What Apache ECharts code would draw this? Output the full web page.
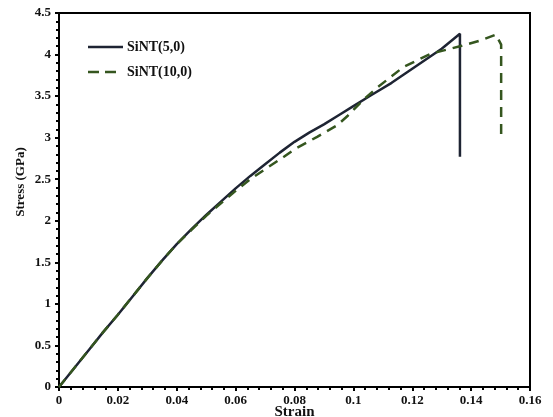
<!DOCTYPE html>
<html>
<head>
<meta charset="utf-8">
<script src="https://cdn.jsdelivr.net/npm/echarts@6/dist/echarts.min.js"></script>
<style>
  html, body { margin: 0; padding: 0; background: #fff; }
  #chart { width: 553px; height: 417px; }
</style>
</head>
<body>
<div id="chart"></div>
<script>
// strain / stress
const strain5 = [0, 0.005, 0.01, 0.015, 0.02, 0.025, 0.03, 0.035, 0.04, 0.045, 0.05, 0.055, 0.06, 0.065, 0.07, 0.075, 0.08, 0.085, 0.09, 0.095, 0.1, 0.106, 0.113, 0.12, 0.13, 0.1362, 0.1362]
const stress5 = [0, 0.22, 0.44, 0.66, 0.87, 1.09, 1.31, 1.52, 1.72, 1.90, 2.07, 2.23, 2.39, 2.54, 2.68, 2.82, 2.95, 3.06, 3.16, 3.27, 3.38, 3.51, 3.66, 3.83, 4.07, 4.25, 2.77]

const strain10 = [0, 0.005, 0.01, 0.015, 0.02, 0.025, 0.03, 0.035, 0.04, 0.045, 0.05, 0.055, 0.06, 0.065, 0.07, 0.0764, 0.08, 0.0877, 0.0945, 0.098, 0.1035, 0.108, 0.117, 0.1263, 0.1362, 0.1433, 0.1484, 0.1502, 0.1502]
const stress10 = [0, 0.22, 0.44, 0.66, 0.87, 1.09, 1.31, 1.52, 1.72, 1.89, 2.06, 2.21, 2.36, 2.5, 2.62, 2.77, 2.86, 3.01, 3.15, 3.26, 3.46, 3.60, 3.85, 4.01, 4.10, 4.17, 4.24, 4.12, 2.98]

const seriesNames = ['SiNT(5,0)', 'SiNT(10,0)']

function pairs (xs, ys) {
  return xs.map(function (x, i) { return [x, ys[i]] })
}

const font = 'Liberation Serif'
// legend line samples (the tiny rect at the end keeps both icons 35 wide)
const solidIcon = 'path://M0,0H35V2.5H0Z'
const dashIcon = 'path://M0,0H11V2.5H0Z M17,0H28V2.5H17Z M34.9,1.2H35V1.3H34.9Z'

let myChart = echarts.init(document.getElementById('chart'))
let option = {
  animation: false,
  grid: {
    left: 59,
    right: 23,
    top: 13,
    bottom: 30,
    outerBoundsMode: 'none',
    show: true,
    borderColor: '#000',
    borderWidth: 2
  },
  legend: {
    left: 83,
    top: 35,
    orient: 'vertical',
    itemWidth: 35,
    itemHeight: 2.5,
    itemGap: 11,
    textStyle: { fontFamily: font, fontWeight: 'bold', fontSize: 14, color: '#111', padding: [0, 0, 0, -1] },
    data: [
      { name: seriesNames[0], icon: solidIcon },
      { name: seriesNames[1], icon: dashIcon }
    ]
  },
  xAxis: {
    type: 'value',
    min: 0,
    max: 0.16,
    interval: 0.02,
    name: 'Strain',
    nameLocation: 'middle',
    nameGap: 18,
    nameMoveOverlap: false,
    nameTextStyle: { fontFamily: font, fontWeight: 'bold', fontSize: 15, color: '#111' },
    axisLine: { lineStyle: { color: '#000', width: 2 } },
    axisTick: { length: 4, lineStyle: { color: '#000', width: 2 } },
    minorTick: { show: true, splitNumber: 5, length: 3, lineStyle: { color: '#000', width: 2 } },
    splitLine: { show: false },
    axisLabel: {
      fontFamily: font, fontWeight: 'bold', fontSize: 13, color: '#111', margin: 7,
      formatter: function (v) { return v === 0 ? '0' : String(+v.toFixed(2)) }
    }
  },
  yAxis: {
    type: 'value',
    min: 0,
    max: 4.5,
    interval: 0.5,
    name: 'Stress (GPa)',
    nameLocation: 'middle',
    nameGap: 32,
    nameMoveOverlap: false,
    nameTextStyle: { fontFamily: font, fontWeight: 'bold', fontSize: 13, color: '#111', padding: [0, 0, 0, 36] },
    axisLine: { lineStyle: { color: '#000', width: 2 } },
    axisTick: { length: 4, lineStyle: { color: '#000', width: 2 } },
    minorTick: { show: true, splitNumber: 5, length: 3, lineStyle: { color: '#000', width: 2 } },
    splitLine: { show: false },
    axisLabel: { fontFamily: font, fontWeight: 'bold', fontSize: 13, color: '#111', margin: 8 }
  },
  series: [
    {
      name: seriesNames[0],
      type: 'line',
      symbol: 'none',
      data: pairs(strain5, stress5),
      lineStyle: { color: '#1e2433', width: 2.5 },
      itemStyle: { color: '#1e2433' }
    },
    {
      name: seriesNames[1],
      type: 'line',
      symbol: 'none',
      data: pairs(strain10, stress10),
      lineStyle: { color: '#35561f', width: 2.5, type: [10, 7] },
      itemStyle: { color: '#35561f' }
    }
  ]
}
myChart.setOption(option)
</script>
</body>
</html>
